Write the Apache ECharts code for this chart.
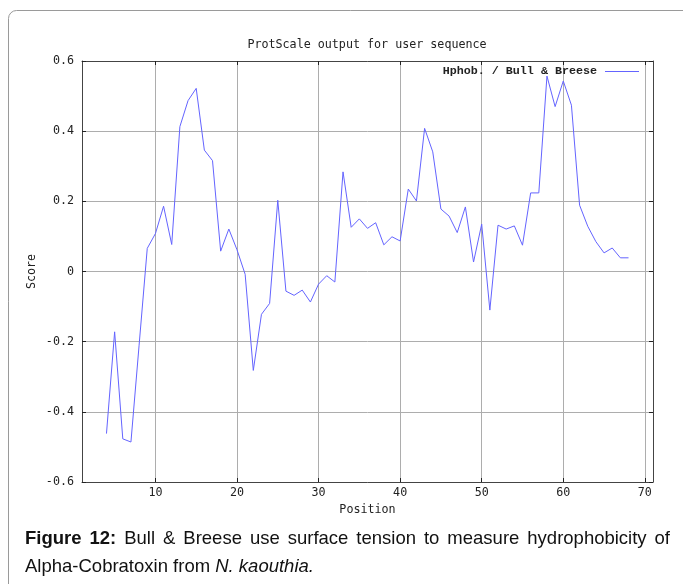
<!DOCTYPE html>
<html>
<head>
<meta charset="utf-8">
<script src="https://cdn.jsdelivr.net/npm/echarts@6/dist/echarts.min.js"></script>
<style>
html,body{margin:0;padding:0;background:#fff;}
#chart{width:683px;height:584px;}
</style>
</head>
<body>
<div id="chart"></div>
<script>
const positions = [4,5,6,7,8,9,10,11,12,13,14,15,16,17,18,19,20,21,22,23,24,25,26,27,28,29,30,31,32,33,34,35,36,37,38,39,40,41,42,43,44,45,46,47,48,49,50,51,52,53,54,55,56,57,58,59,60,61,62,63,64,65,66,67,68];
const scores = [-0.462,-0.172,-0.477,-0.486,-0.21,0.066,0.108,0.186,0.077,0.413,0.487,0.522,0.346,0.316,0.058,0.121,0.062,-0.008,-0.282,-0.122,-0.091,0.203,-0.056,-0.068,-0.053,-0.087,-0.036,-0.012,-0.030,0.284,0.126,0.150,0.123,0.139,0.076,0.099,0.087,0.235,0.201,0.408,0.341,0.178,0.158,0.111,0.184,0.027,0.135,-0.110,0.132,0.121,0.130,0.075,0.224,0.224,0.557,0.470,0.543,0.474,0.189,0.129,0.085,0.053,0.067,0.039,0.039];
const xTicks = [10,20,30,40,50,60,70];
const yTicks = [-0.6,-0.4,-0.2,0,0.2,0.4,0.6];
const seriesName = 'Hphob. / Bull & Breese';
const titleText = 'ProtScale output for user sequence';
const captionLine1 = [['Figure',true],['12:',true],['Bull',false],['&',false],['Breese',false],['use',false],['surface',false],['tension',false],['to',false],['measure',false],['hydrophobicity',false],['of',false]];

const mono = 'DejaVu Sans Mono';
const capFont = 'Liberation Sans';
const capSize = 18.5;
const lineColor = '#6464ff';
const chart = echarts.init(document.getElementById('chart'), null, {renderer:'canvas'});
const axisCol = '#444';
const gridCol = '#adadad';

// justified first caption line
const ctx = document.createElement('canvas').getContext('2d');
function w(t,b){ctx.font=(b?'bold ':'')+capSize+'px "'+capFont+'"';return ctx.measureText(t).width;}
const x0 = 25, x1 = 670;
const total = captionLine1.reduce((s,[t,b])=>s+w(t,b),0);
const gap = (x1-x0-total)/(captionLine1.length-1);
let cx = x0;
const capEls = captionLine1.map(([t,b])=>{
  const el = {type:'text',x:cx,y:529,style:{text:t,font:(b?'bold ':'')+capSize+'px "'+capFont+'"',fill:'#111',textVerticalAlign:'top'}};
  cx += w(t,b)+gap; return el;
});

chart.setOption({
  animation:false,
  backgroundColor:'#fff',
  title:{text:titleText,left:367,top:39,textAlign:'center',padding:0,
    textStyle:{fontFamily:mono,fontSize:11.7,fontWeight:'normal',color:'#222'}},
  grid:{left:82,top:61,right:30,bottom:102,containLabel:false},
  xAxis:[{type:'value',min:1,max:71,position:'bottom',
    name:'Position',nameLocation:'middle',nameGap:21,
    nameTextStyle:{fontFamily:mono,fontSize:11.7,color:'#222'},
    axisLine:{show:true,onZero:false,lineStyle:{color:axisCol,width:1}},
    axisTick:{show:true,inside:true,length:4,customValues:xTicks,lineStyle:{color:'#222'}},
    axisLabel:{customValues:xTicks,fontFamily:mono,fontSize:11.7,color:'#222',margin:5},
    splitLine:{show:true,lineStyle:{color:gridCol,width:1}}},
   {type:'value',min:1,max:71,position:'top',
    axisLine:{show:true,onZero:false,lineStyle:{color:axisCol,width:1}},
    axisTick:{show:true,inside:true,length:4,customValues:xTicks,lineStyle:{color:'#222'}},
    axisLabel:{show:false},splitLine:{show:false}}],
  yAxis:[{type:'value',min:-0.6,max:0.6,interval:0.2,position:'left',
    name:'Score',nameLocation:'middle',nameGap:44,nameMoveOverlap:false,
    nameTextStyle:{fontFamily:mono,fontSize:11.7,color:'#222'},
    axisLine:{show:true,onZero:false,lineStyle:{color:axisCol,width:1}},
    axisTick:{show:true,inside:true,length:4,lineStyle:{color:'#222'}},
    axisLabel:{fontFamily:mono,fontSize:11.7,color:'#222',margin:8,
      formatter:v=>{const r=Math.round(v*10)/10;return r===0?'0':r.toFixed(1);}},
    splitLine:{show:true,lineStyle:{color:gridCol,width:1}}},
   {type:'value',min:-0.6,max:0.6,interval:0.2,position:'right',
    axisLine:{show:true,onZero:false,lineStyle:{color:axisCol,width:1}},
    axisTick:{show:true,inside:true,length:4,lineStyle:{color:'#222'}},
    axisLabel:{show:false},splitLine:{show:false}}],
  series:[{name:seriesName,type:'line',xAxisIndex:0,yAxisIndex:0,
    data:positions.map((p,i)=>[p,scores[i]]),
    showSymbol:false,symbol:'none',
    lineStyle:{color:lineColor,width:1},itemStyle:{color:lineColor}}],
  graphic:[
    {type:'rect',shape:{x:8.5,y:10.5,width:700,height:620,r:8},
     style:{fill:'none',stroke:'#9a9a9a',lineWidth:1},silent:true,z:-1},
    {type:'text',x:597,y:71,z:100,
     style:{text:seriesName,font:'bold 11.7px "Liberation Mono"',fill:'#222',textAlign:'right',textVerticalAlign:'middle'}},
    {type:'line',z:100,shape:{x1:605,y1:71.5,x2:639,y2:71.5},style:{stroke:lineColor,lineWidth:1}},
    ...capEls,
    {type:'text',x:25,y:557,
     style:{text:'Alpha-Cobratoxin from {i|N. kaouthia.}',
       rich:{i:{fontFamily:capFont,fontSize:capSize,fontStyle:'italic',fill:'#111'}},
       fontFamily:capFont,fontSize:capSize,fill:'#111',textVerticalAlign:'top'}}
  ]
});
</script>
</body>
</html>
